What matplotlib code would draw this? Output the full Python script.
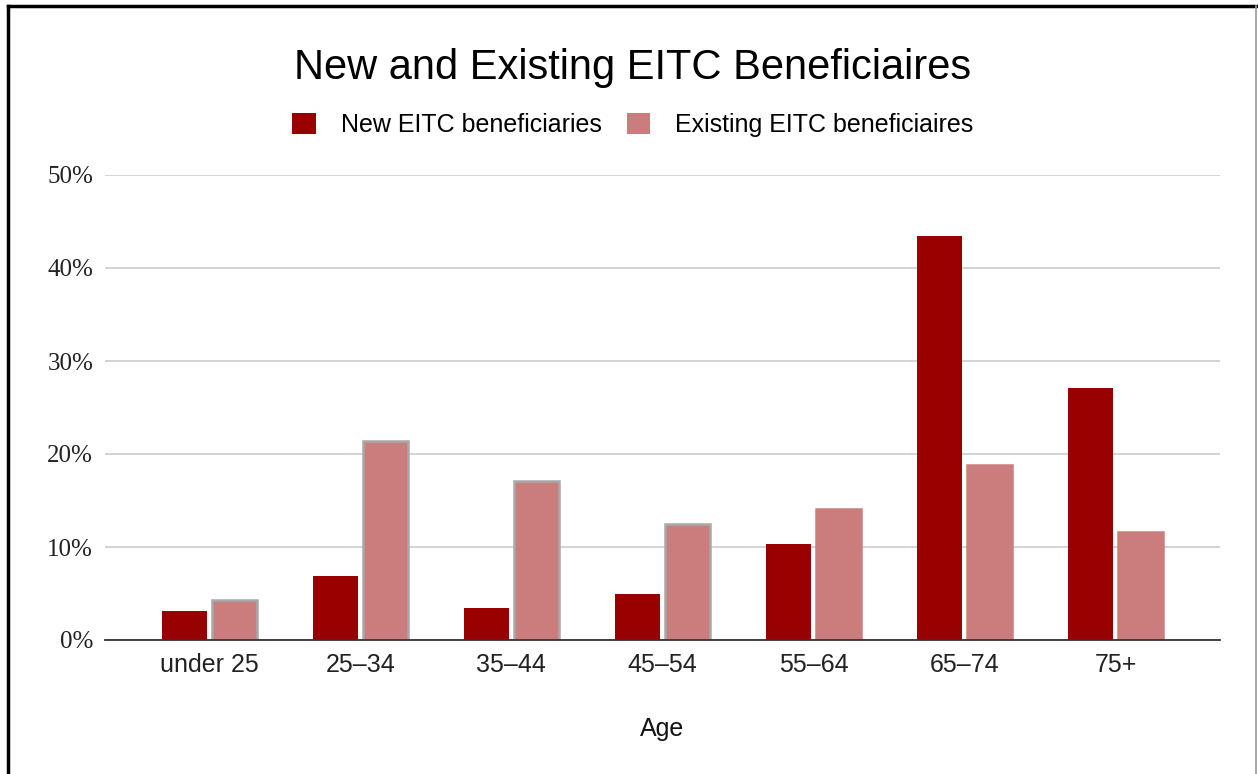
import numpy as np
import matplotlib
matplotlib.use("Agg")
from matplotlib import pyplot as plt
from matplotlib.patches import Patch
from matplotlib.ticker import FuncFormatter

# Chart data (percent of beneficiaries by age group)
age_groups = ["under 25", "25\u201334", "35\u201344", "45\u201354", "55\u201364", "65\u201374", "75+"]
new_eitc = [3.1, 6.9, 3.4, 4.9, 10.3, 43.4, 27.1]
existing_eitc = [4.3, 21.4, 17.1, 12.5, 14.1, 18.8, 11.6]
y_ticks = [0, 10, 20, 30, 40, 50]

new_color = "#990000"
existing_color = "#cb7c7c"

sans = ["Liberation Sans", "DejaVu Sans"]
serif = ["Liberation Serif", "DejaVu Serif"]

fig = plt.figure(figsize=(12.58, 7.74), dpi=100)
ax = fig.add_axes([105 / 1258, 1 - 640 / 774, (1220 - 105) / 1258, (640 - 175) / 774])

x = np.arange(len(age_groups))
width = 0.30
offset = 0.165

ax.bar(x - offset, new_eitc, width, color=new_color, zorder=3)
# first four existing bars carry a faint grey outline in the original
edges = ["#a8a8a8"] * 4 + [existing_color] * 3
ax.bar(x + offset, existing_eitc, width, color=existing_color,
       edgecolor=edges, linewidth=1.8, zorder=3)

ax.set_xlim(-0.69, len(age_groups) - 1 + 0.69)
ax.set_ylim(0, 50)
ax.set_yticks(y_ticks)
ax.yaxis.set_major_formatter(FuncFormatter(lambda v, p: f"{v:.0f}%"))
ax.set_xticks(x)
ax.set_xticklabels(age_groups, fontsize=18, family=sans, color="#222222")
for lbl in ax.get_yticklabels():
    lbl.set_family(serif)
    lbl.set_fontsize(18)
    lbl.set_color("#222222")

ax.tick_params(axis="both", length=0)
ax.tick_params(axis="y", pad=8.5)
ax.tick_params(axis="x", pad=9)
ax.grid(axis="y", color="#cccccc", linewidth=1.2, zorder=0)
for side in ["top", "right", "left"]:
    ax.spines[side].set_visible(False)
ax.spines["bottom"].set_color("#333333")
ax.spines["bottom"].set_linewidth(1.3)
ax.spines["bottom"].set_zorder(4)

ax.set_xlabel("Age", fontsize=18, family=sans, labelpad=29, color="#111111")

fig.text(0.503, 1 - 68 / 774, "New and Existing EITC Beneficiaires", ha="center", va="center",
         fontsize=30, family=sans, color="#000000")

handles = [Patch(facecolor=new_color, label="New EITC beneficiaries"),
           Patch(facecolor=existing_color, label="Existing EITC beneficiaires")]
fig.legend(handles=handles, loc="center", bbox_to_anchor=(0.503, 1 - 125 / 774), ncol=2,
           frameon=False, prop={"family": sans, "size": 18}, handlelength=0.95, handleheight=0.95,
           columnspacing=1.0, handletextpad=1.0)

# outer frame of the screenshot
fig.add_artist(plt.Line2D([8 / 1258, 8 / 1258], [0, 1 - 6 / 774], color="black", linewidth=2.5))
fig.add_artist(plt.Line2D([8 / 1258, 1], [1 - 6 / 774, 1 - 6 / 774], color="black", linewidth=2.5))
fig.add_artist(plt.Line2D([1256 / 1258, 1256 / 1258], [0, 1 - 6 / 774], color="#999999", linewidth=1.2))

plt.savefig("out.png", dpi=100)
